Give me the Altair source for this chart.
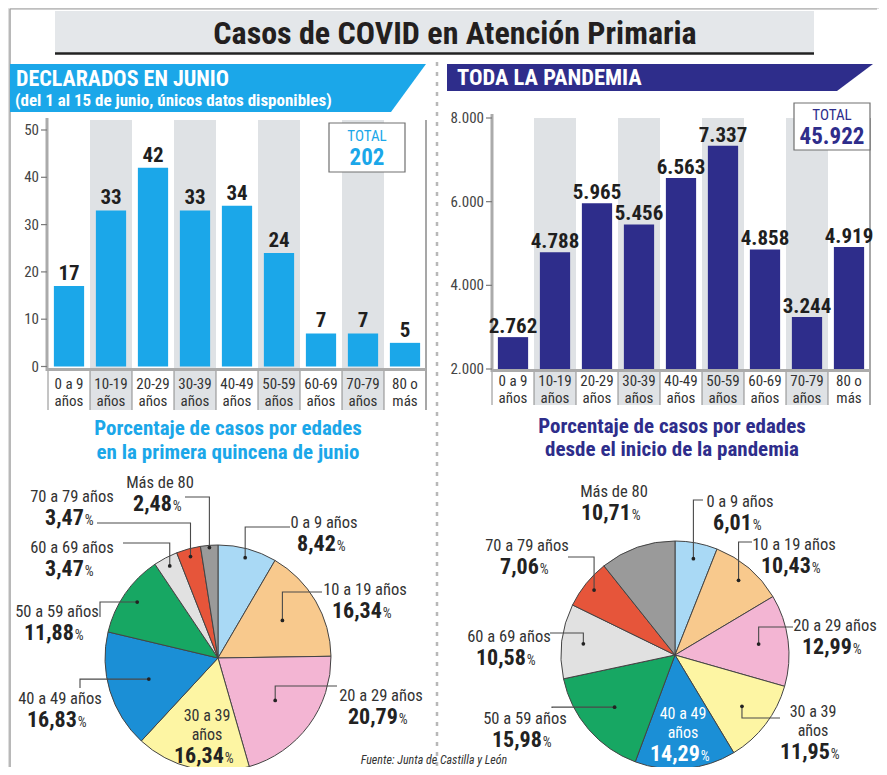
import math
import altair as alt
import pandas as pd

# ---------------- data ----------------
age_line1 = ["0 a 9", "10-19", "20-29", "30-39", "40-49", "50-59", "60-69", "70-79", "80 o"]
age_line2 = ["años", "años", "años", "años", "años", "años", "años", "años", "más"]
june_cases = [17, 33, 42, 33, 34, 24, 7, 7, 5]
june_total = 202
pandemic_cases = [2762, 4788, 5965, 5456, 6563, 7337, 4858, 3244, 4919]
pandemic_total = 45922
june_ticks = [0, 10, 20, 30, 40, 50]
pandemic_ticks = [2000, 4000, 6000, 8000]
pie_groups = ["0 a 9 años", "10 a 19 años", "20 a 29 años", "30 a 39 años", "40 a 49 años",
              "50 a 59 años", "60 a 69 años", "70 a 79 años", "Más de 80"]
june_pct = [8.42, 16.34, 20.79, 16.34, 16.83, 11.88, 3.47, 3.47, 2.48]
pandemic_pct = [6.01, 10.43, 12.99, 11.95, 14.29, 15.98, 10.58, 7.06, 10.71]
slice_colors = ["#a9d9f5", "#f8c98d", "#f3b5d3", "#fdf5a3", "#1b8fd6",
                "#17a763", "#e1e1e1", "#e6553a", "#9a9a9a"]

# ---------------- style / layout ----------------
NARROW = "'Liberation Sans Narrow', 'Arial Narrow', 'Roboto Condensed', 'DejaVu Sans Condensed', sans-serif"
CYAN = "#1ba7e9"
NAVY = "#2e2d8b"
BAND = "#dfe2e5"
OFF = 8  # page margin


def P(v):
    return v - OFF


def es_int(v):
    return f"{v:,}".replace(",", ".")


def es_dec(v):
    return f"{v:.2f}".replace(".", ",")


def text_layers(rows):
    df = pd.DataFrame(rows, columns=["x", "y", "t", "s", "c", "w", "a", "st", "b"])
    df["x"] = df["x"] - OFF
    df["y"] = df["y"] - OFF
    out = []
    for (w, a, st, b), g in df.groupby(["w", "a", "st", "b"]):
        out.append(
            alt.Chart(g.reset_index(drop=True)).mark_text(
                font=NARROW, fontWeight=w, align=a, fontStyle=st, baseline=b
            ).encode(
                x=alt.X("x:Q", scale=None, axis=None),
                y=alt.Y("y:Q", scale=None, axis=None),
                text="t:N",
                size=alt.Size("s:Q", scale=None, legend=None),
                color=alt.Color("c:N", scale=None, legend=None),
            )
        )
    return out


one = pd.DataFrame({"a": [0]})


def vrule(x, y1, y2, color, width, dash=None):
    kw = dict(color=color, strokeWidth=width)
    if dash:
        kw["strokeDash"] = dash
    return alt.Chart(one).mark_rule(**kw).encode(
        x=alt.value(P(x)), y=alt.value(P(y1)), y2=alt.value(P(y2)))


def hrule(y, x1, x2, color, width):
    return alt.Chart(one).mark_rule(color=color, strokeWidth=width).encode(
        y=alt.value(P(y)), x=alt.value(P(x1)), x2=alt.value(P(x2)))


def box(x1, x2, y1, y2, fill, stroke=None):
    kw = dict(color=fill)
    if stroke:
        kw.update(stroke=stroke, strokeWidth=1.2)
    return alt.Chart(one).mark_rect(**kw).encode(
        x=alt.value(P(x1)), x2=alt.value(P(x2)), y=alt.value(P(y1)), y2=alt.value(P(y2)))


def slanted(x_left, y_top, y_bot, x_top_right, x_bot_right, color):
    df = pd.DataFrame({"y": [P(y_top), P(y_bot)], "x": [P(x_left), P(x_left)],
                       "x2": [P(x_top_right), P(x_bot_right)]})
    return alt.Chart(df).mark_area(orient="horizontal", color=color).encode(
        y=alt.Y("y:Q", scale=None, axis=None),
        x=alt.X("x:Q", scale=None, axis=None),
        x2="x2:Q")


def bar_panel(values, ticks, cfg):
    df = pd.DataFrame({"cat": age_line1, "l2": age_line2, "val": values,
                       "lab": [es_int(v) for v in values], "idx": list(range(9))})
    tdf = pd.DataFrame({"val": ticks, "lab": [es_int(t) for t in ticks]})
    xs = alt.Scale(domain=age_line1, range=[P(cfg["x0"]), P(cfg["x1"])],
                   paddingInner=0, paddingOuter=0)
    ys = alt.Scale(domain=cfg["dom"], range=[P(cfg["yb"]), P(cfg["yt"])],
                   zero=False, nice=False, clamp=True)
    X = alt.X("cat:N", scale=xs, axis=None)
    Y = alt.Y("val:Q", scale=ys, axis=None)
    base = alt.Chart(df)
    bands = base.transform_filter("datum.idx % 2 == 1").mark_rect(color=BAND).encode(
        x=X, y=alt.value(P(cfg["bt"])), y2=alt.value(P(cfg["bb"])))
    edge = base.transform_filter("datum.idx == 8").mark_rule(color="#8a8a8a", strokeWidth=1.5).encode(
        x=alt.X("cat:N", scale=xs, axis=None, bandPosition=1),
        y=alt.value(P(cfg["bt"])), y2=alt.value(P(cfg["bb"])))
    seps = base.mark_rule(color="#8a8a8a", strokeWidth=1).encode(
        x=alt.X("cat:N", scale=xs, axis=None, bandPosition=0),
        y=alt.value(P(cfg["xay"])), y2=alt.value(P(cfg["bb"])))
    bars = base.mark_bar(color=cfg["color"], width=alt.RelativeBandSize(0.72)).encode(x=X, y=Y)
    xaxis = hrule(cfg["xay"], cfg["axx"] - 1, cfg["x1"], "#ababab", 3)
    yaxis = vrule(cfg["axx"], cfg["ay_top"], cfg["xay"] + 1.5, "#ababab", 3)
    tk = alt.Chart(tdf).mark_rule(color="#7a7a7a", strokeWidth=1.2).encode(
        y=alt.Y("val:Q", scale=ys, axis=None),
        x=alt.value(P(cfg["axx"] - 6)), x2=alt.value(P(cfg["axx"])))
    tkl = alt.Chart(tdf).mark_text(align="right", baseline="middle", font=NARROW,
                                   fontSize=15, color="#444").encode(
        y=alt.Y("val:Q", scale=ys, axis=None),
        x=alt.value(P(cfg["axx"] - 8)), text="lab:N")
    vlab = base.mark_text(font=NARROW, fontWeight="bold", fontSize=21, baseline="alphabetic",
                          dy=cfg["dy"], color="#1f1f1f").encode(x=X, y=Y, text="lab:N")
    c1 = base.mark_text(font=NARROW, fontSize=15, color="#333", baseline="middle").encode(
        x=X, y=alt.value(P(cfg["l1y"])), text="cat:N")
    c2 = base.mark_text(font=NARROW, fontSize=15, color="#333", baseline="middle").encode(
        x=X, y=alt.value(P(cfg["l2y"])), text="l2:N")
    return alt.layer(bands, edge, seps, bars, xaxis, yaxis, tk, tkl, vlab, c1, c2)


LEFT = dict(x0=48, x1=426, yb=366.5, yt=130, dom=[0, 50], bt=120, bb=410, axx=47,
            ay_top=118, xay=369.5, l1y=384, l2y=401, color=CYAN, dy=-6)
RIGHT = dict(x0=492, x1=870, yb=369, yt=118, dom=[2000, 8000], bt=118, bb=405, axx=492,
             ay_top=114, xay=370.5, l1y=381, l2y=398, color=NAVY, dy=-4)

# label layout per slice: (label center x, first name line y, split name, leader kind,
#                          leader end x, leader end y, dot radius fraction, text colour)
LEFT_PIE = dict(cx=218, cy=658, r=113, lay=[
    (324, 523, False, "vh", 290, 527, 0.92, "#333"),
    (365, 590, False, "vh", 322, 592, 0.66, "#333"),
    (381, 696, False, "vh", 337, 686, 0.63, "#333"),
    (207, 716, True, None, 0, 0, 0, "#333"),
    (60, 699, False, "hv", 80, 688, 0.64, "#333"),
    (57, 612, False, "hv", 100, 617, 0.87, "#333"),
    (72, 548, False, "vh", 123, 543, 0.92, "#333"),
    (72, 497, False, "vh", 97, 523, 0.93, "#333"),
    (160, 483, False, "vh", 185, 497, 0.98, "#333"),
])
RIGHT_PIE = dict(cx=675, cy=655, r=114, lay=[
    (740, 502, False, "vh", 703, 500, 0.86, "#333"),
    (794, 545, False, "vh", 752, 542, 0.86, "#333"),
    (835, 626, False, "vh", 793, 627, 0.74, "#333"),
    (813, 712, True, "vh", 780, 718, 0.74, "#333"),
    (683, 714, True, None, 0, 0, 0, "white"),
    (525, 719, False, "hv", 552, 708, 0.70, "#333"),
    (509, 637, False, "vh", 550, 633, 0.81, "#333"),
    (527, 546, False, "vh", 568, 557, 0.91, "#333"),
    (614, 492, False, None, 0, 0, 0, "#333"),
])


def pie_parts(pcts, cfg, text_rows):
    cx, cy, r = cfg["cx"], cfg["cy"], cfg["r"]
    df = pd.DataFrame({"name": pie_groups, "pct": pcts, "idx": list(range(9)), "col": slice_colors})
    arcs = alt.Chart(df).mark_arc(outerRadius=r, stroke="#444", strokeWidth=1).encode(
        theta=alt.Theta("pct:Q", stack=True),
        order=alt.Order("idx:Q"),
        color=alt.Color("col:N", scale=None, legend=None),
        x=alt.value(P(cx)), y=alt.value(P(cy)))
    total = sum(pcts)
    cum = 0.0
    lead, dots = [], []
    for i, p in enumerate(pcts):
        mid = (cum + p / 2) / total * 2 * math.pi
        cum += p
        lx, ly, split, kind, ex, ey, frac, tc = cfg["lay"][i]
        if kind:
            dx = cx + frac * r * math.sin(mid)
            dy = cy - frac * r * math.cos(mid)
            dots.append({"x": P(dx), "y": P(dy)})
            if kind == "vh":
                pts = [(dx, dy), (dx, ey), (ex, ey)]
            else:
                pts = [(dx, dy), (ex, dy), (ex, ey)]
            for k, (px_, py_) in enumerate(pts):
                lead.append({"g": i, "o": k, "x": P(px_), "y": P(py_)})
        name = pie_groups[i]
        lines = name.replace(" años", "\naños").split("\n") if split else [name]
        lh = 18.5
        fs = 16 if split else 16.5
        for j, ln in enumerate(lines):
            text_rows.append((lx, ly + lh * j, ln, fs, tc, "normal", "center", "normal", "middle"))
        yp = ly + lh * (len(lines) - 1) + 20
        num = es_dec(p)
        nd = sum(ch.isdigit() for ch in num)
        num_w = (nd * 0.456 + 0.228) * 22
        pw = 10.5
        start = lx - (num_w + 1 + pw) / 2
        text_rows.append((start + num_w, yp + 8, num, 22, "#222" if tc != "white" else tc,
                          "bold", "right", "normal", "alphabetic"))
        text_rows.append((start + num_w + 1, yp + 8, "%", 14, tc, "normal", "left", "normal", "alphabetic"))
    leaders = alt.Chart(pd.DataFrame(lead)).mark_line(color="#4a4a4a", strokeWidth=1.1).encode(
        x=alt.X("x:Q", scale=None, axis=None), y=alt.Y("y:Q", scale=None, axis=None),
        detail="g:N", order="o:Q")
    dotl = alt.Chart(pd.DataFrame(dots)).mark_circle(size=14, color="#222", opacity=1).encode(
        x=alt.X("x:Q", scale=None, axis=None), y=alt.Y("y:Q", scale=None, axis=None))
    return [arcs, leaders, dotl]


texts = [
    (455, 34, "Casos de COVID en Atención Primaria", 32, "#231f20", "bold", "center", "normal", "middle"),
    (16, 79, "DECLARADOS EN JUNIO", 22, "white", "bold", "left", "normal", "middle"),
    (15, 101, "(del 1 al 15 de junio, únicos datos disponibles)", 17, "white", "bold", "left", "normal", "middle"),
    (457, 78, "TODA LA PANDEMIA", 22.5, "white", "bold", "left", "normal", "middle"),
    (367, 136, "TOTAL", 15, CYAN, "normal", "center", "normal", "middle"),
    (367, 158, es_int(june_total), 23, CYAN, "bold", "center", "normal", "middle"),
    (832, 115, "TOTAL", 15, NAVY, "normal", "center", "normal", "middle"),
    (832, 137, es_int(pandemic_total), 23, NAVY, "bold", "center", "normal", "middle"),
    (228, 429, "Porcentaje de casos por edades", 21, CYAN, "bold", "center", "normal", "middle"),
    (228, 453, "en la primera quincena de junio", 21, CYAN, "bold", "center", "normal", "middle"),
    (672, 427, "Porcentaje de casos por edades", 21, NAVY, "bold", "center", "normal", "middle"),
    (672, 450, "desde el inicio de la pandemia", 21, NAVY, "bold", "center", "normal", "middle"),
    (434, 760, "Fuente: Junta de Castilla y León", 12, "#333", "normal", "center", "italic", "middle"),
]

layers = [
    hrule(9, 10, 877, "#a0a0a0", 1.2),
    vrule(10, 9, 767, "#a0a0a0", 1.5),
    box(55, 814, 11, 53, "#e4e7ea"),
    hrule(53.5, 55, 814, "#222", 2.5),
    slanted(10, 64, 112, 426, 391, CYAN),
    slanted(447, 64, 91, 873, 837, NAVY),
    vrule(437, 62, 770, "#b8b8b8", 2.5, dash=[4, 6]),
    bar_panel(june_cases, june_ticks, LEFT),
    bar_panel(pandemic_cases, pandemic_ticks, RIGHT),
    box(329, 405, 123, 172, "white", "#707070"),
    box(794, 870, 103, 150, "white", "#707070"),
]
layers += pie_parts(june_pct, LEFT_PIE, texts)
layers += pie_parts(pandemic_pct, RIGHT_PIE, texts)
layers += text_layers(texts)

chart = alt.layer(*layers).resolve_scale(
    x="independent", y="independent", theta="independent",
    color="independent", size="independent"
).properties(
    width=871, height=759, padding=0,
    autosize=alt.AutoSizeParams(type="none"),
).configure_view(stroke=None).configure(background="white")

chart.save("out.html", embed_options={"renderer": "svg", "actions": False})
